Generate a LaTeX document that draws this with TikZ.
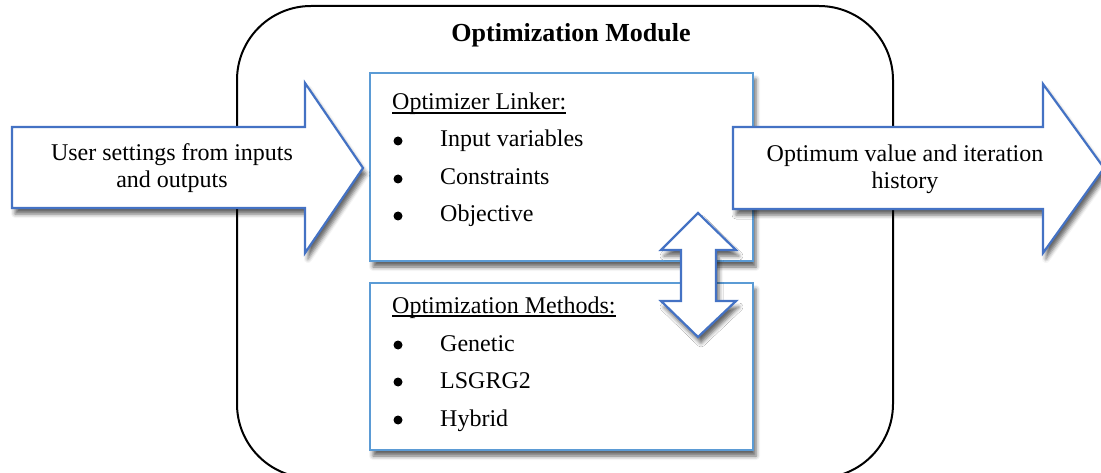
\documentclass[tikz,border=0pt]{standalone}
\usepackage{fontspec}
\setmainfont{Liberation Serif}
\usetikzlibrary{shadows.blur}
\definecolor{arrowblue}{HTML}{4472C4}
\definecolor{boxblue}{HTML}{5B9BD5}

\begin{document}
\begin{tikzpicture}[x=1pt,y=-1pt,
  softshadow/.style={blur shadow={shadow xshift=3pt, shadow yshift=-6pt,
      shadow blur radius=4pt, shadow opacity=60}},
  module/.style={draw=black, line width=2pt, rounded corners=74pt,
      minimum width=656pt, minimum height=472pt, inner sep=0pt},
  panel/.style={draw=boxblue, line width=2.2pt, fill=white, softshadow,
      minimum width=383pt, inner sep=0pt},
  blockarrow/.style={draw=arrowblue, line width=2.2pt, fill=white,
      line join=miter, softshadow},
  txt/.style={font=\fontsize{24}{27}\selectfont, inner sep=0pt},
  heading/.style={txt, anchor=base west},
  item/.style={txt, anchor=base west},
  bulletmark/.style={circle, fill=black, inner sep=0pt, minimum size=9pt},
  arrowtext/.style={txt, align=center, anchor=base},
  rulestyle/.style={line width=1.3pt},
]
\useasboundingbox (0,0) rectangle (1101,473);

% outer module frame
\node[module] (module) at (565,242) {};
\node[font=\bfseries\fontsize{26}{30}\selectfont, inner sep=0pt, anchor=base]
  (title) at (571,42) {Optimization Module};

% the two inner panels
\node[panel, minimum height=188pt] (linker) at (561.5,167) {};
\node[panel, minimum height=167pt] (methods) at (561.5,366.5) {};

% panel contents
\node[heading] (linkhead) at (392,110) {Optimizer Linker:};
\draw[rulestyle] ([yshift=-3pt]linkhead.base west) -- ([yshift=-3pt]linkhead.base east);
\node[bulletmark] (b1) at (398,141) {};
\node[item] (i1) at (440,147) {Input variables};
\node[bulletmark] (b2) at (398,179) {};
\node[item] (i2) at (440,185) {Constraints};
\node[bulletmark] (b3) at (398,216) {};
\node[item] (i3) at (440,222) {Objective};

\node[heading] (methhead) at (392,313) {Optimization Methods:};
\draw[rulestyle] ([yshift=-3pt]methhead.base west) -- ([yshift=-3pt]methhead.base east);
\node[bulletmark] (b4) at (398,345) {};
\node[item] (i4) at (440,351) {Genetic};
\node[bulletmark] (b5) at (398,382) {};
\node[item] (i5) at (440,388) {LSGRG2};
\node[bulletmark] (b6) at (398,420) {};
\node[item] (i6) at (440,426) {Hybrid};

% two-way arrow between the panels
\draw[blockarrow] (698,213) -- (736,250) -- (716,250) -- (716,301) -- (736,301)
  -- (698,337) -- (661,301) -- (681,301) -- (681,250) -- (661,250) -- cycle;

% input arrow
\draw[blockarrow] (12,127) -- (305,127) -- (305,83) -- (363,168) -- (305,253)
  -- (305,208) -- (12,208) -- cycle;
\node[arrowtext] (intext) at (172,188) {User settings from inputs\\and outputs};

% output arrow
\draw[blockarrow] (733,127) -- (1043,127) -- (1043,84) -- (1104,168) -- (1043,253)
  -- (1043,209) -- (733,209) -- cycle;
\node[arrowtext] (outtext) at (905,189) {Optimum value and iteration\\history};
\end{tikzpicture}
\end{document}
